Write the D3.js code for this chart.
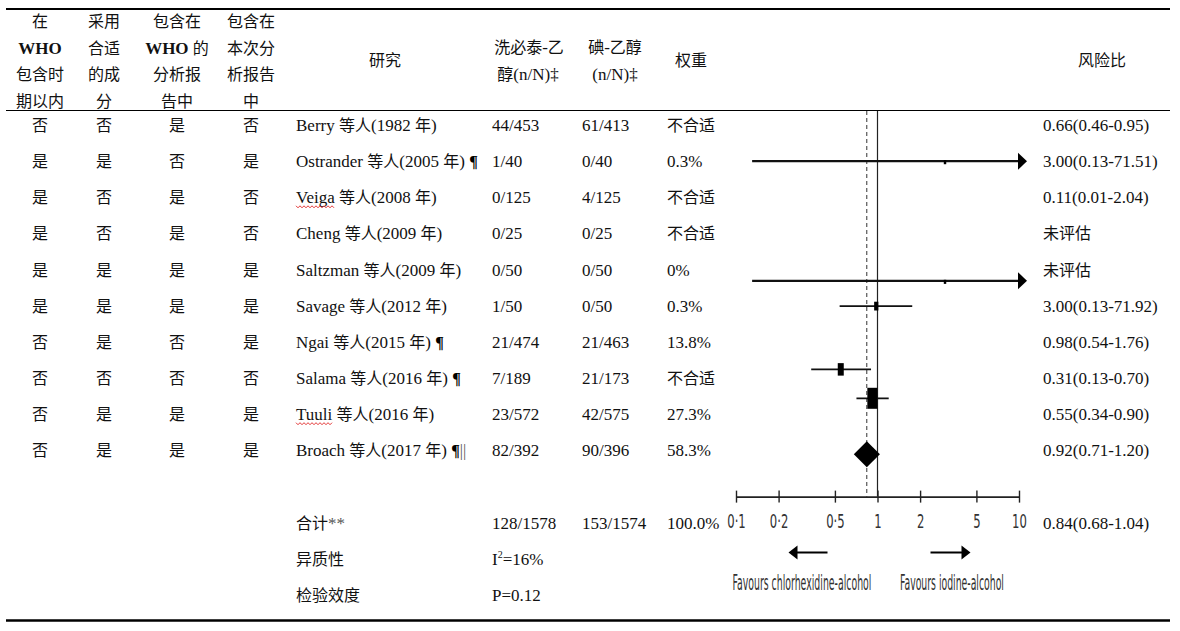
<!DOCTYPE html>
<html>
<head>
<meta charset="utf-8">
<script src="https://cdn.jsdelivr.net/npm/d3@7"></script>
<style>
  body { margin: 0; background: #fff; }
  svg { display: block; }
</style>
</head>
<body>
<svg id="chart" width="1180" height="631"></svg>
<script>
// table data
const studies = ["Berry 等人(1982 年)", "Ostrander 等人(2005 年)", "Veiga 等人(2008 年)", "Cheng 等人(2009 年)",
  "Saltzman 等人(2009 年)", "Savage 等人(2012 年)", "Ngai 等人(2015 年)", "Salama 等人(2016 年)",
  "Tuuli 等人(2016 年)", "Broach 等人(2017 年)"];
const notes = ["", "¶", "", "", "", "", "¶", "¶", "", "¶||"];
const inWhoPeriod  = ["否", "是", "是", "是", "是", "是", "否", "否", "否", "否"];
const suitable     = ["否", "是", "否", "否", "是", "是", "是", "否", "是", "是"];
const inWhoReport  = ["是", "否", "是", "是", "是", "是", "否", "否", "是", "是"];
const inThisReport = ["否", "是", "否", "否", "是", "是", "是", "否", "是", "是"];
const chlorhex = ["44/453", "1/40", "0/125", "0/25", "0/50", "1/50", "21/474", "7/189", "23/572", "82/392"];
const iodine   = ["61/413", "0/40", "4/125", "0/25", "0/50", "0/50", "21/463", "21/173", "42/575", "90/396"];
const weights  = ["不合适", "0.3%", "不合适", "不合适", "0%", "0.3%", "13.8%", "不合适", "27.3%", "58.3%"];
const rrLabels = ["0.66(0.46-0.95)", "3.00(0.13-71.51)", "0.11(0.01-2.04)", "未评估", "未评估",
  "3.00(0.13-71.92)", "0.98(0.54-1.76)", "0.31(0.13-0.70)", "0.55(0.34-0.90)", "0.92(0.71-1.20)"];
const underlined = ["Veiga", "Tuuli"];

const headCols = [["在", "WHO", "包含时", "期以内"], ["采用", "合适", "的成", "分"],
  ["包含在", "WHO 的", "分析报", "告中"], ["包含在", "本次分", "析报告", "中"]];

// summary rows
const summaryLabels = ["合计**", "异质性", "检验效度"];
const summaryChlor = ["128/1578", "I2=16%", "P=0.12"];
const summaryIodine = ["153/1574", "", ""];
const summaryWeight = ["100.0%", "", ""];
const summaryRR = ["0.84(0.68-1.04)", "", ""];

// forest marks as drawn (row = table row the mark sits on)
const plotRR     = [3.00, 3.00, 0.98, 0.55, 0.92];
const plotLo     = [0.13, 0.13, 0.54, 0.34, 0.71];
const plotHi     = [71.51, 71.92, 1.76, 0.90, 1.20];
const plotWeight = [0.3, 0.3, 13.8, 27.3, 58.3];
const plotRow    = [1, 4.31, 5.01, 6.76, 7.56];
const pooled = [0.84, 0.68, 1.04];
const pooledRow = 9.11;
const axisRow = 10.28;
const xTicks = [0.1, 0.2, 0.5, 1, 2, 5, 10];
const favours = ["Favours chlorhexidine-alcohol", "Favours iodine-alcohol"];

const svg = d3.select("#chart");
const latin = "'Liberation Serif', 'Times New Roman', serif";
const cjk = "'Noto Sans CJK SC', sans-serif";
const narrow = "'Liberation Sans Narrow', 'DejaVu Sans Condensed', sans-serif";

const x = d3.scaleLog().domain([0.1, 10]).range([736, 1019]);
const y = d3.scaleLinear().domain([0, 1]).range([125, 161.15]);
const boxH = d3.scaleLinear().domain([0, 58.3]).range([5, 21]);

// mixed CJK / latin text, y = visual centre
function addText(g, px, py, str, anchor) {
  let t = g.append("text")
    .attr("x", px).attr("y", py + 6)
    .attr("text-anchor", anchor || "start")
    .attr("fill", "#111");
  let parts = str.match(/[\u3000-\u9fff\uff00-\uffef]+|[^\u3000-\u9fff\uff00-\uffef]+/g) || [];
  parts.forEach(p => {
    let isCjk = /[\u3000-\u9fff]/.test(p);
    if (!isCjk && p.indexOf("I2") === 0) {
      t.append("tspan").attr("font-family", latin).attr("font-size", 17).text("I");
      t.append("tspan").attr("font-family", latin).attr("font-size", 10).attr("dy", -7).text("2");
      t.append("tspan").attr("font-family", latin).attr("font-size", 17).attr("dy", 7).text(p.slice(2));
      return;
    }
    if (!isCjk && p === "**") {
      t.append("tspan").attr("font-family", latin).attr("font-size", 17).attr("fill", "#555").text(p);
      return;
    }
    t.append("tspan")
      .attr("font-family", isCjk ? cjk : latin)
      .attr("font-size", isCjk ? 16 : 17)
      .attr("font-weight", p.trim().indexOf("WHO") === 0 ? "bold" : null)
      .text(p);
  });
  return t;
}

// rules
svg.append("line").attr("x1", 6).attr("x2", 1170).attr("y1", 9).attr("y2", 9)
  .attr("stroke", "#000").attr("stroke-width", 2.2);
svg.append("line").attr("x1", 6).attr("x2", 1170).attr("y1", 110.5).attr("y2", 110.5)
  .attr("stroke", "#000").attr("stroke-width", 1.2);
svg.append("line").attr("x1", 6).attr("x2", 1170).attr("y1", 620.5).attr("y2", 620.5)
  .attr("stroke", "#000").attr("stroke-width", 2.6);

// header
const colX = [40, 104, 177, 251];
const head = svg.append("g");
headCols.forEach((lines, i) => {
  lines.forEach((s, j) => addText(head, colX[i], 21 + j * 26.5, s, "middle"));
});
addText(head, 385, 60, "研究", "middle");
addText(head, 529, 47, "洗必泰-乙", "middle");
addText(head, 528, 74, "醇(n/N)‡", "middle");
addText(head, 615, 47, "碘-乙醇", "middle");
addText(head, 615, 74, "(n/N)‡", "middle");
addText(head, 691, 60, "权重", "middle");
addText(head, 1102, 60, "风险比", "middle");

// body rows
const body = svg.append("g");
studies.forEach((s, i) => {
  let cy = y(i);
  [inWhoPeriod, suitable, inWhoReport, inThisReport].forEach((arr, c) => addText(body, colX[c], cy, arr[i], "middle"));
  let t = addText(body, 296, cy, s);
  if (notes[i]) {
    t.append("tspan").attr("font-family", latin).attr("font-size", 17).text(" ");
    t.append("tspan").attr("font-family", latin).attr("font-size", 16).attr("font-weight", "bold").attr("fill", "#000").text("¶");
    if (notes[i].length > 1) {
      t.append("tspan").attr("font-family", latin).attr("font-size", 16).attr("fill", "#555").text("||");
    }
  }
  let word = s.split(" ")[0];
  if (underlined.includes(word)) {
    let w = t.node().getSubStringLength(0, word.length);
    let pts = d3.range(0, Math.floor(w / 2) + 1).map(k => [296 + k * 2, cy + 9 + (k % 2 ? 1.5 : -0.5)]);
    body.append("path").attr("d", d3.line()(pts))
      .attr("fill", "none").attr("stroke", "#e02020").attr("stroke-width", 0.9);
  }
  addText(body, 492, cy, chlorhex[i]);
  addText(body, 582, cy, iodine[i]);
  addText(body, 667, cy, weights[i]);
  addText(body, 1043, cy, rrLabels[i]);
});

summaryLabels.forEach((s, i) => {
  let cy = y(11 + i);
  addText(body, 296, cy, s);
  addText(body, 492, cy, summaryChlor[i]);
  if (summaryIodine[i]) addText(body, 582, cy, summaryIodine[i]);
  if (summaryWeight[i]) addText(body, 667, cy, summaryWeight[i]);
  if (summaryRR[i]) addText(body, 1043, cy, summaryRR[i]);
});

// forest plot
const forest = svg.append("g");
const axisY = y(axisRow);

forest.append("line")
  .attr("x1", x(1)).attr("x2", x(1)).attr("y1", 111).attr("y2", axisY)
  .attr("stroke", "#222").attr("stroke-width", 1.2);
forest.append("line")
  .attr("x1", x(pooled[0])).attr("x2", x(pooled[0])).attr("y1", 111).attr("y2", axisY)
  .attr("stroke", "#333").attr("stroke-width", 1).attr("stroke-dasharray", "4,3");

plotRR.forEach((rr, i) => {
  let cy = y(plotRow[i]);
  let x1 = x(Math.max(plotLo[i], 0.1));
  let over = plotHi[i] > 10;
  let x2 = over ? x(10) + 8 : x(plotHi[i]);
  forest.append("line").attr("x1", x1).attr("x2", over ? x2 - 6 : x2).attr("y1", cy).attr("y2", cy)
    .attr("stroke", "#111").attr("stroke-width", over ? 2.2 : 1.8);
  if (over) {
    forest.append("path")
      .attr("d", `M${x2},${cy}L${x2 - 9},${cy - 8.5}L${x2 - 9},${cy + 8.5}Z`)
      .attr("fill", "#000");
  }
  let h = boxH(plotWeight[i]), w = h * 0.48;
  forest.append("rect")
    .attr("x", x(rr) - w / 2).attr("y", cy - (over ? 1 : h / 2))
    .attr("width", w).attr("height", over ? h - 1 : h)
    .attr("fill", "#000");
});

{
  let cy = y(pooledRow);
  forest.append("path")
    .attr("d", `M${x(pooled[1])},${cy}L${x(pooled[0])},${cy - 13}L${x(pooled[2])},${cy}L${x(pooled[0])},${cy + 13}Z`)
    .attr("fill", "#000");
}

const axis = d3.axisBottom(x).tickValues(xTicks).tickSize(6).tickSizeOuter(0)
  .tickFormat(d => String(d).replace(".", "·"));
const ag = forest.append("g").attr("transform", `translate(0,${axisY})`).call(axis);
ag.select(".domain").attr("stroke", "#222").attr("stroke-width", 1.6);
ag.selectAll(".tick line").attr("y1", -6).attr("y2", 6).attr("stroke", "#222").attr("stroke-width", 1.4);
ag.selectAll(".tick text")
  .attr("y", 0).attr("dy", 0)
  .attr("transform", "translate(0,31) scale(0.68,1)")
  .attr("font-family", narrow)
  .attr("font-size", 19).attr("fill", "#333");

// favours arrows
const arrowY = axisY + 56;
const cx = x(1);
forest.append("line").attr("x1", cx - 50).attr("x2", cx - 82).attr("y1", arrowY).attr("y2", arrowY)
  .attr("stroke", "#000").attr("stroke-width", 2);
forest.append("path").attr("d", `M${cx - 89},${arrowY}L${cx - 80},${arrowY - 7}L${cx - 80},${arrowY + 7}Z`).attr("fill", "#000");
forest.append("line").attr("x1", cx + 53).attr("x2", cx + 86).attr("y1", arrowY).attr("y2", arrowY)
  .attr("stroke", "#000").attr("stroke-width", 2);
forest.append("path").attr("d", `M${cx + 93},${arrowY}L${cx + 84},${arrowY - 7}L${cx + 84},${arrowY + 7}Z`).attr("fill", "#000");

// favours labels, squeezed to the reference width
const favX = [802, 952], favW = [139, 104];
favours.forEach((s, i) => {
  let t = forest.append("text")
    .attr("text-anchor", "middle")
    .attr("font-family", narrow)
    .attr("font-size", 21).attr("fill", "#333")
    .text(s);
  let k = favW[i] / t.node().getComputedTextLength();
  t.attr("transform", `translate(${favX[i]},${axisY + 93}) scale(${k},1)`);
});
</script>
</body>
</html>
